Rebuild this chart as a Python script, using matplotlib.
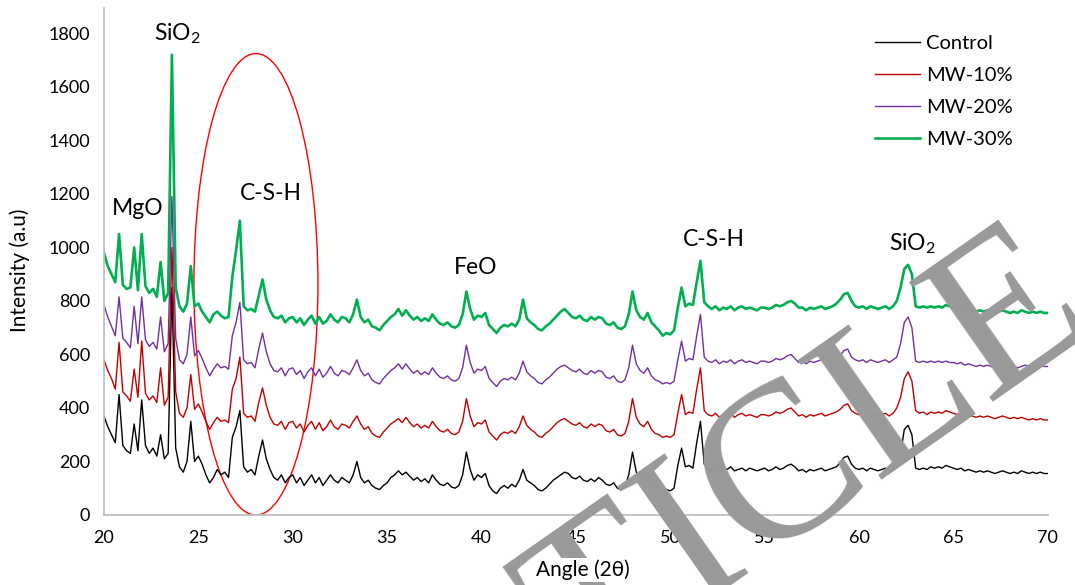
import numpy as np
import matplotlib.pyplot as plt
from matplotlib.patches import Ellipse

plt.rcParams['font.family'] = ['Lato', 'DejaVu Sans']
plt.rcParams['mathtext.default'] = 'regular'

# 2-theta grid, 0.2 deg steps from 20 to 70
angle = np.round(np.arange(20, 70.001, 0.2), 1)

# intensities, one row per 5 degrees
control = [
    370, 330, 300, 270, 450, 260, 240, 230, 340, 240, 430, 260, 230, 250, 220, 300, 210, 230, 850, 250, 180, 160, 200, 350, 200,
    220, 190, 150, 120, 140, 170, 150, 160, 140, 290, 330, 390, 180, 160, 170, 150, 220, 280, 210, 170, 140, 130, 150, 120, 140,
    150, 120, 140, 110, 130, 150, 120, 140, 110, 130, 150, 130, 120, 140, 130, 120, 150, 200, 140, 120, 130, 110, 100, 95, 110,
    120, 140, 150, 165, 150, 160, 145, 130, 140, 125, 135, 120, 150, 130, 115, 110, 120, 105, 100, 110, 150, 235, 170, 130, 150,
    140, 155, 110, 90, 80, 100, 110, 100, 115, 105, 130, 170, 130, 120, 110, 95, 90, 100, 115, 130, 140, 150, 160, 155, 140,
    135, 145, 130, 125, 135, 125, 140, 130, 115, 110, 120, 100, 95, 105, 150, 235, 160, 140, 130, 155, 120, 110, 100, 90, 95,
    90, 100, 185, 250, 180, 185, 175, 270, 350, 190, 175, 170, 180, 165, 175, 170, 180, 165, 170, 175, 165, 175, 170, 165, 170,
    175, 165, 170, 180, 170, 175, 185, 190, 180, 165, 170, 160, 170, 165, 170, 175, 165, 170, 175, 180, 195, 215, 220, 190, 175,
    170, 175, 165, 175, 170, 165, 170, 175, 165, 170, 180, 230, 320, 335, 300, 175, 170, 175, 170, 180, 175, 180, 175, 185, 180,
    175, 170, 175, 165, 170, 165, 160, 165, 160, 165, 160, 155, 160, 165, 160, 155, 160, 155, 165, 160, 155, 160, 155, 160, 155,
    155,
]
mw10 = [
    580, 540, 510, 470, 645, 460, 445, 425, 545, 440, 650, 455, 430, 445, 420, 550, 410, 440, 1000, 460, 380, 365, 400, 525, 395,
    415, 385, 350, 320, 345, 365, 350, 355, 345, 470, 510, 590, 380, 365, 370, 350, 420, 475, 410, 365, 340, 335, 350, 320, 345,
    350, 325, 340, 310, 335, 350, 320, 345, 315, 330, 355, 330, 320, 340, 335, 325, 350, 370, 340, 320, 330, 305, 295, 290, 310,
    325, 340, 350, 360, 345, 365, 345, 330, 340, 325, 335, 325, 350, 330, 315, 310, 320, 305, 300, 310, 350, 435, 370, 330, 345,
    340, 355, 310, 295, 280, 300, 310, 305, 315, 305, 330, 370, 335, 320, 310, 295, 290, 305, 315, 330, 345, 355, 360, 350, 340,
    335, 345, 330, 325, 340, 330, 340, 335, 315, 310, 320, 300, 295, 305, 350, 435, 365, 340, 330, 350, 320, 305, 300, 290, 295,
    290, 300, 380, 450, 375, 385, 380, 470, 550, 390, 375, 370, 380, 365, 375, 370, 380, 365, 375, 380, 370, 375, 370, 365, 375,
    375, 370, 375, 385, 380, 385, 395, 400, 385, 370, 375, 365, 375, 370, 375, 380, 370, 375, 380, 385, 395, 410, 415, 390, 380,
    375, 380, 370, 380, 375, 370, 375, 380, 370, 380, 400, 440, 510, 535, 500, 390, 380, 385, 375, 385, 380, 385, 380, 390, 385,
    380, 375, 380, 370, 375, 370, 365, 370, 365, 370, 365, 360, 365, 370, 365, 360, 365, 360, 365, 360, 355, 360, 355, 360, 355,
    355,
]
mw20 = [
    785, 740, 705, 670, 815, 660, 645, 625, 780, 640, 815, 655, 630, 645, 620, 740, 610, 640, 1190, 660, 580, 565, 600, 740, 595,
    615, 585, 550, 520, 545, 565, 550, 555, 545, 670, 720, 795, 580, 565, 570, 550, 620, 680, 610, 565, 540, 535, 550, 520, 545,
    550, 525, 540, 510, 535, 550, 520, 545, 515, 530, 555, 530, 520, 540, 535, 525, 550, 580, 540, 520, 530, 505, 495, 490, 510,
    525, 540, 550, 565, 545, 565, 545, 530, 540, 525, 535, 525, 550, 530, 515, 510, 520, 505, 500, 510, 550, 635, 570, 530, 545,
    540, 555, 510, 495, 480, 500, 510, 505, 515, 505, 530, 575, 535, 520, 510, 495, 490, 505, 515, 530, 545, 555, 560, 550, 540,
    535, 545, 530, 525, 540, 530, 540, 535, 515, 510, 520, 500, 495, 505, 550, 635, 565, 540, 530, 550, 520, 505, 500, 490, 495,
    490, 500, 580, 650, 575, 585, 580, 670, 750, 590, 575, 570, 580, 565, 575, 570, 580, 565, 575, 580, 570, 575, 570, 565, 575,
    575, 570, 575, 585, 580, 585, 595, 600, 585, 570, 575, 565, 575, 570, 575, 580, 570, 575, 580, 585, 595, 615, 620, 590, 580,
    575, 580, 570, 580, 575, 570, 575, 580, 570, 580, 590, 640, 720, 740, 700, 575, 570, 575, 570, 575, 570, 575, 570, 575, 570,
    570, 565, 570, 560, 565, 560, 555, 560, 555, 560, 555, 550, 555, 560, 555, 550, 555, 550, 555, 560, 555, 560, 555, 560, 555,
    555,
]
mw30 = [
    980, 930, 900, 870, 1050, 860, 845, 850, 1000, 840, 1050, 855, 830, 845, 815, 945, 800, 830, 1720, 850, 780, 760, 790, 930, 780,
    790, 760, 740, 720, 750, 760, 745, 735, 740, 890, 990, 1100, 780, 765, 770, 760, 820, 880, 805, 765, 740, 735, 745, 720, 735,
    740, 720, 735, 710, 730, 745, 715, 740, 715, 725, 750, 730, 720, 740, 735, 720, 750, 805, 740, 720, 730, 705, 700, 690, 710,
    725, 740, 750, 770, 745, 765, 745, 730, 740, 725, 735, 725, 750, 730, 715, 710, 720, 705, 700, 710, 750, 835, 770, 730, 745,
    740, 755, 710, 695, 680, 700, 710, 705, 715, 705, 730, 805, 735, 720, 710, 695, 690, 705, 715, 730, 745, 760, 770, 755, 740,
    735, 745, 730, 725, 740, 730, 740, 735, 715, 710, 720, 700, 695, 705, 750, 835, 765, 740, 730, 755, 720, 705, 690, 670, 680,
    675, 690, 775, 850, 780, 790, 785, 870, 950, 795, 780, 770, 780, 765, 775, 770, 780, 765, 775, 780, 770, 775, 770, 765, 775,
    775, 770, 775, 785, 780, 785, 795, 800, 790, 775, 775, 765, 775, 770, 775, 780, 770, 775, 780, 790, 805, 825, 830, 800, 780,
    775, 780, 770, 780, 775, 770, 775, 780, 770, 780, 800, 850, 920, 935, 900, 780, 775, 780, 775, 780, 775, 780, 775, 785, 780,
    775, 770, 775, 765, 770, 765, 760, 765, 760, 765, 760, 755, 760, 765, 760, 755, 760, 755, 765, 760, 755, 760, 755, 760, 755,
    755,
]

series = [control, mw10, mw20, mw30]
labels = ['Control', 'MW-10%', 'MW-20%', 'MW-30%']
colors = ['#000000', '#C00000', '#7030A0', '#00B050']
widths = [1.0, 1.0, 1.0, 1.9]

fig = plt.figure(figsize=(10.75, 5.85), dpi=100)
ax = fig.add_axes([0.0967, 0.1197, 0.878, 0.8667])

for ys, lab, c, w in zip(series, labels, colors, widths):
    ax.plot(angle, ys, color=c, lw=w, label=lab)

ax.set_xlim(20, 70)
ax.set_ylim(0, 1895)
ax.set_xticks(range(20, 71, 5))
ax.set_yticks(range(0, 1801, 200))
ax.tick_params(length=0, labelsize=13)
ax.tick_params(axis='x', pad=11)
ax.tick_params(axis='y', pad=10)
for s in ['top', 'right']:
    ax.spines[s].set_visible(False)
for s in ['left', 'bottom']:
    ax.spines[s].set_color('#BFBFBF')
    ax.spines[s].set_linewidth(1.3)

ax.set_ylabel('Intensity (a.u)', fontsize=15)
ax.yaxis.set_label_coords(-0.078, 0.483)
# x title as figure text so it sits above the watermark
fig.text(583 / 1075, 1 - 570 / 585, 'Angle (2θ)', fontsize=15, ha='center', va='center', zorder=11,
         bbox=dict(facecolor='white', edgecolor='none', pad=1))

# peak labels
ax.text(23.9, 1800, 'SiO$_2$', fontsize=16.5, ha='center', va='center')
ax.text(21.8, 1145, 'MgO', fontsize=16.5, ha='center', va='center')
ax.text(28.85, 1200, 'C-S-H', fontsize=16.5, ha='center', va='center')
ax.text(39.7, 925, 'FeO', fontsize=16.5, ha='center', va='center')
ax.text(52.3, 1030, 'C-S-H', fontsize=16.5, ha='center', va='center')
ax.text(62.85, 1015, 'SiO$_2$', fontsize=16.5, ha='center', va='center')

ax.add_patch(Ellipse((28.05, 862), 6.57, 1725, fill=False, edgecolor='red', lw=1))

ax.legend(loc='upper left', bbox_to_anchor=(0.814, 0.941), bbox_transform=fig.transFigure,
          frameon=False, fontsize=14.5, handlelength=2.25, handletextpad=0.3,
          labelspacing=0.75, borderpad=0, borderaxespad=0)

# grey watermark across the lower right, anchored at the end of the word
fig.text(1.023, 0.443, 'ARTICLE', rotation=35, rotation_mode='anchor', fontsize=160,
         family='Liberation Serif', color='#999999', ha='right', va='baseline', zorder=10)

fig.savefig('out.png', dpi=100)
